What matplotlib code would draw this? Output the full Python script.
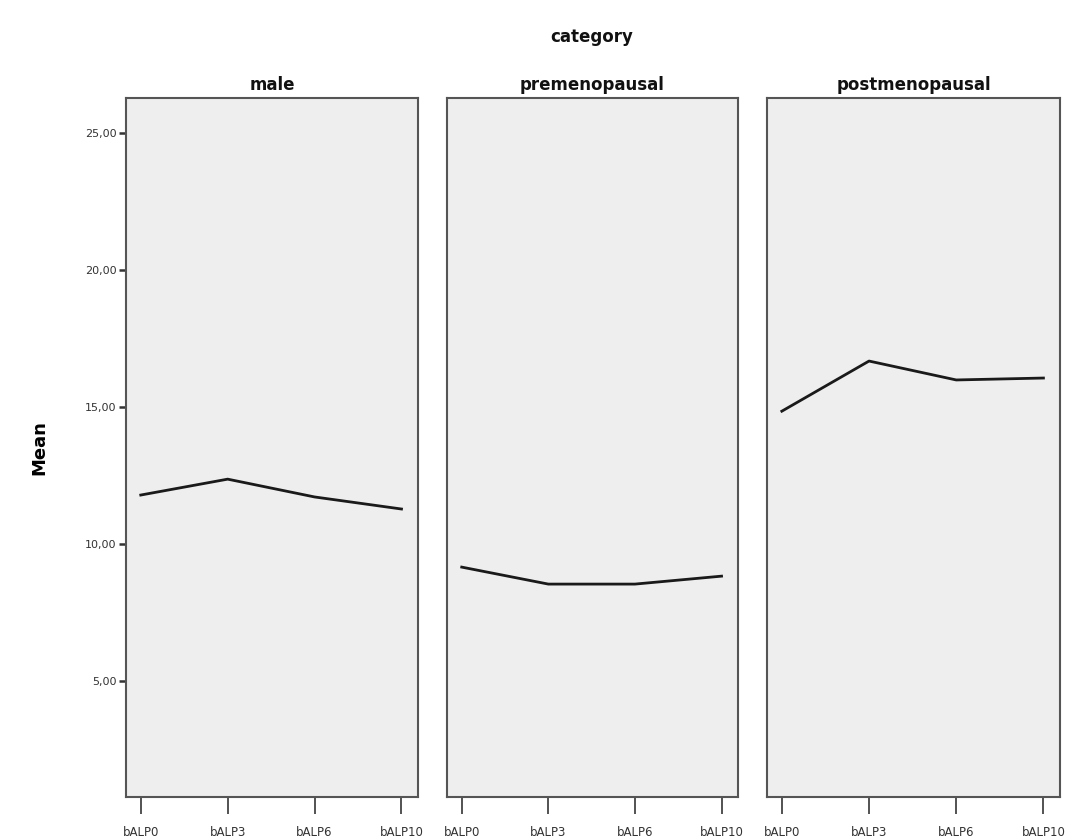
import matplotlib
matplotlib.use("Agg")
import matplotlib.pyplot as plt

categories = ["male", "premenopausal", "postmenopausal"]
x_labels = ["bALP0", "bALP3", "bALP6", "bALP10"]
male = [11.79, 12.37, 11.72, 11.28]
premenopausal = [9.16, 8.54, 8.54, 8.83]
postmenopausal = [14.85, 16.68, 15.99, 16.06]
series = [male, premenopausal, postmenopausal]
y_ticks = [5, 10, 15, 20, 25]
y_tick_labels = ["5,00", "10,00", "15,00", "20,00", "25,00"]

fig = plt.figure(figsize=(10.76, 8.4), dpi=100)
lefts = [126, 447, 767]
widths = [292, 291, 293]
W, H = 1076, 840
bottom = 1 - 797 / H
height = (797 - 98) / H

for i, (cat, vals) in enumerate(zip(categories, series)):
    ax = fig.add_axes([lefts[i] / W, bottom, widths[i] / W, height])
    ax.set_facecolor("#efeeee")
    xs = list(range(len(x_labels)))
    ax.plot(xs, vals, color="#1a1a1a", lw=2.0)
    ax.set_xlim(-0.17, 3.19)
    ax.set_ylim(0.77, 26.28)
    ax.set_xticks(xs)
    ax.set_xticklabels(x_labels, fontsize=8.5, color="#333333")
    ax.tick_params(axis="x", direction="out", length=12, width=1.3, color="#444444", pad=9)
    for s in ax.spines.values():
        s.set_color("#555555")
        s.set_linewidth(1.5)
    if i == 0:
        ax.set_yticks(y_ticks)
        ax.set_yticklabels(y_tick_labels, fontsize=8, color="#333333")
        ax.tick_params(axis="y", direction="out", length=5, width=1.8, color="#333333", pad=2)
        ax.set_ylabel("Mean", fontsize=13, fontweight="bold", labelpad=26)
    else:
        ax.set_yticks([])
    ax.set_title(cat, fontsize=12, fontweight="bold", pad=6, color="#111111")

fig.text(592 / W, 1 - 37 / H, "category", ha="center", va="center", fontsize=12, fontweight="bold", color="#111111")

fig.savefig("out.png", dpi=100, facecolor="white")
